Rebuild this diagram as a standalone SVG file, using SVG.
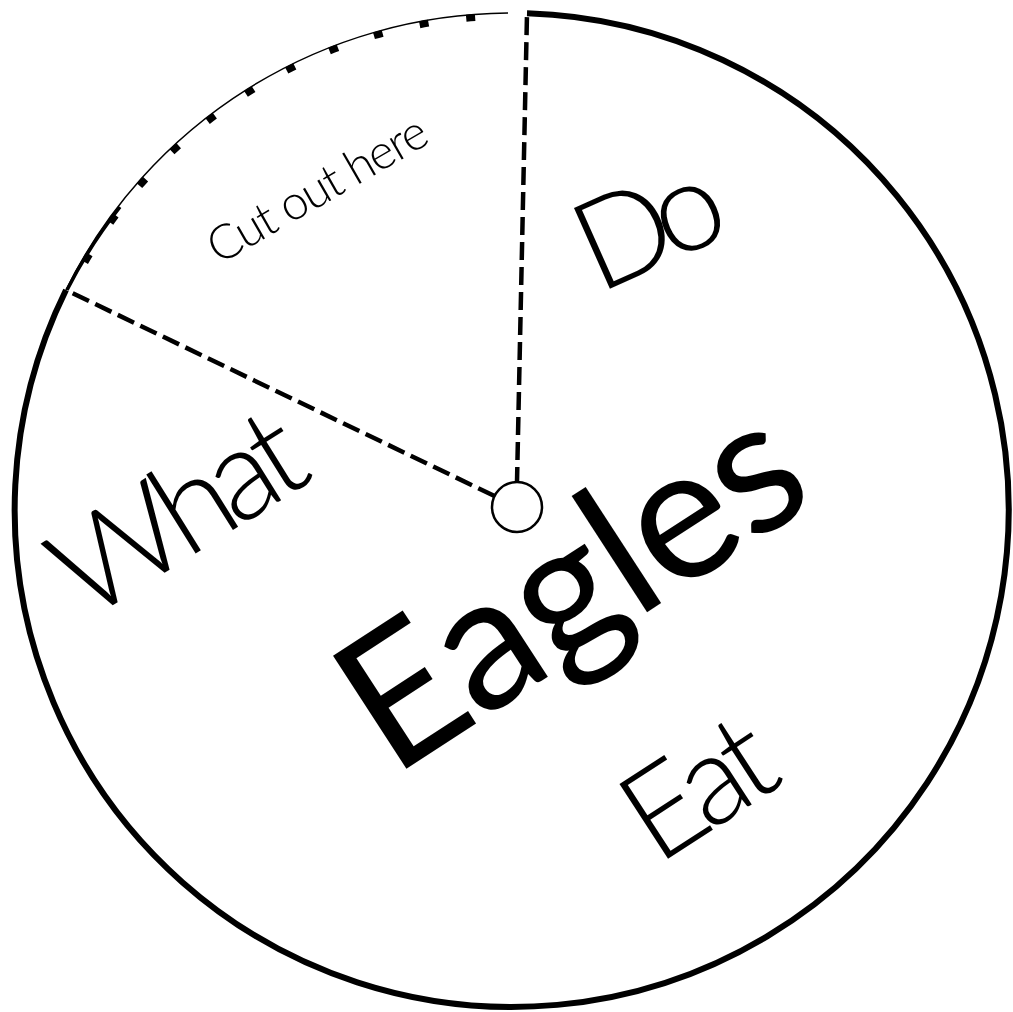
<svg xmlns="http://www.w3.org/2000/svg" width="1013" height="1012" viewBox="0 0 1013 1012">
<style>
.lbl{font-family:Lato,"Liberation Sans",sans-serif;fill:#000;font-weight:300}
.big{font-family:Lato,"Liberation Sans",sans-serif;fill:#000;font-weight:400}
.dash{fill:none;stroke:#000;stroke-width:4.5;stroke-dasharray:18 7}
</style>
<rect width="1013" height="1012" fill="#fff"/>
<g id="wheel">
<path d="M527,13.2 A497,497 0 1 1 66,290" fill="none" stroke="#000" stroke-width="6"/>
<path d="M66,290 A497,497 0 0 1 508,13" fill="none" stroke="#000" stroke-width="1.5"/>
<path d="M67,290 A496,496 0 0 1 120,207" fill="none" stroke="#000" stroke-width="3.5"/>
<path d="M68.5,293 A494,494 0 0 1 512,16" fill="none" stroke="#000" stroke-width="7" stroke-dasharray="9 38" stroke-dashoffset="12"/>
</g>
<g id="connectors">
<path class="dash" d="M517,482 L527,14" stroke-dashoffset="3"/>
<path class="dash" d="M494.5,496 L66,290"/>
</g>
<g id="hub"><circle cx="517" cy="507" r="25" fill="#fff" stroke="#000" stroke-width="2.5"/></g>
<g id="cut"><text class="lbl" font-size="48" transform="translate(219,265) rotate(-30)" textLength="246">Cut out here</text></g>
<g id="do"><text class="lbl" font-size="125" transform="translate(598,294) rotate(-24)" textLength="150">Do</text></g>
<g id="what"><text class="lbl" font-size="128" transform="translate(86,622) rotate(-32)" textLength="272">What</text></g>
<g id="eagles"><text class="big" font-size="188" transform="translate(392,778) rotate(-33)" textLength="510">Eagles</text></g>
<g id="eat"><text class="lbl" font-size="126" transform="translate(657,866) rotate(-33)" textLength="155">Eat</text></g>
</svg>
